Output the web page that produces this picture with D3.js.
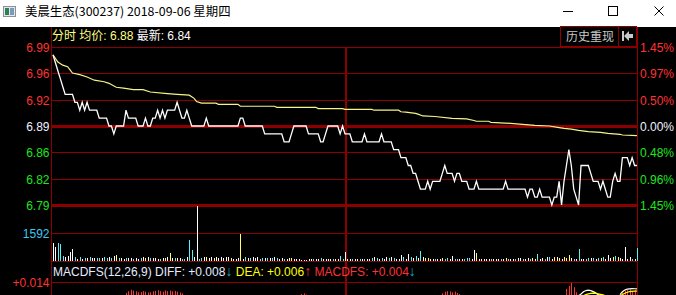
<!DOCTYPE html>
<html><head><meta charset="utf-8">
<script src="https://cdn.jsdelivr.net/npm/d3@7"></script>
<style>
html,body{margin:0;padding:0;background:#000;overflow:hidden;}
svg{display:block;}
text{font-family:"Liberation Sans","Noto Sans CJK SC",sans-serif;}
</style></head><body>
<svg id="c" width="676" height="295"></svg>
<script>
// ---------------- data ----------------
const titleText = "美晨生态(300237) 2018-09-06 星期四";
const headerParts = [["分时 均价: 6.88 ", "#ffff80"], ["最新: 6.84", "#ffffff"]];
const prevClose = 6.89;
const priceTickValues = [6.99, 6.9567, 6.9233, 6.89, 6.8567, 6.8233, 6.79];
const priceTickLabels = ["6.99", "6.96", "6.92", "6.89", "6.86", "6.82", "6.79"];
const pctTickLabels = ["1.45%", "0.97%", "0.50%", "0.00%", "0.48%", "0.96%", "1.45%"];
const prices = [
6.98,6.97,6.96,6.95,6.94,6.93,6.93,6.93,6.93,6.92,
6.92,6.91,6.92,6.91,6.92,6.91,6.91,6.91,6.91,6.90,
6.90,6.90,6.90,6.89,6.89,6.88,6.89,6.89,6.89,6.89,
6.91,6.90,6.90,6.90,6.90,6.89,6.89,6.89,6.90,6.89,
6.89,6.90,6.90,6.91,6.90,6.91,6.90,6.91,6.91,6.91,
6.91,6.92,6.91,6.90,6.90,6.91,6.90,6.89,6.89,6.89,
6.89,6.89,6.89,6.90,6.89,6.89,6.89,6.89,6.89,6.89,
6.89,6.89,6.89,6.89,6.89,6.89,6.89,6.90,6.90,6.89,
6.89,6.89,6.89,6.89,6.89,6.89,6.89,6.88,6.88,6.88,
6.88,6.88,6.88,6.88,6.88,6.87,6.87,6.87,6.88,6.89,
6.89,6.89,6.89,6.89,6.89,6.88,6.88,6.88,6.88,6.88,
6.87,6.87,6.88,6.89,6.89,6.89,6.89,6.89,6.88,6.89,
6.88,6.88,6.88,6.87,6.87,6.87,6.87,6.87,6.88,6.87,
6.87,6.87,6.87,6.87,6.87,6.88,6.87,6.87,6.87,6.87,
6.86,6.86,6.86,6.85,6.85,6.85,6.84,6.84,6.83,6.83,
6.82,6.81,6.81,6.81,6.82,6.81,6.82,6.82,6.82,6.82,
6.83,6.84,6.83,6.83,6.83,6.82,6.83,6.83,6.82,6.82,
6.82,6.81,6.81,6.81,6.82,6.81,6.81,6.81,6.81,6.81,
6.81,6.81,6.81,6.81,6.81,6.81,6.82,6.81,6.81,6.81,
6.81,6.81,6.81,6.81,6.81,6.80,6.81,6.81,6.80,6.80,
6.81,6.80,6.80,6.80,6.80,6.79,6.80,6.80,6.82,6.79,
6.82,6.84,6.86,6.84,6.81,6.80,6.79,6.84,6.84,6.84,
6.84,6.83,6.82,6.82,6.82,6.81,6.82,6.81,6.80,6.80,
6.82,6.83,6.82,6.82,6.85,6.85,6.85,6.84,6.85,6.84,
6.84];
const avgMinutes = [0,2,4,6,7,8,11,14,17,21,23,26,29,33,37,40,47,51,56,58,59,61,67,68,76,77,91,92,108,109,119,120,131,132,142,143,145,149,150,152,157,164,170,173,174,179,180,188,193,198,204,208,210,213,216,220,225,228,233,234,240];
const avgValues = [6.980,6.971,6.967,6.965,6.961,6.957,6.955,6.952,6.948,6.946,6.944,6.939,6.938,6.936,6.936,6.933,6.931,6.930,6.929,6.925,6.921,6.919,6.919,6.9175,6.9175,6.915,6.915,6.9137,6.9137,6.912,6.912,6.911,6.911,6.910,6.910,6.908,6.9075,6.906,6.905,6.9027,6.902,6.8997,6.899,6.897,6.896,6.896,6.8947,6.8934,6.892,6.8909,6.890,6.888,6.887,6.886,6.8845,6.883,6.882,6.8807,6.8795,6.8786,6.8777];
const volumes = [
1004,813,1042,966,284,209,303,531,682,209,
133,246,133,190,190,246,190,190,152,152,
190,246,171,209,152,284,341,152,190,114,
152,152,152,95,152,114,152,246,152,209,
152,190,152,114,114,152,152,209,474,152,
152,152,152,114,114,209,1194,625,209,3127,
114,152,209,246,190,246,152,209,152,209,
152,209,246,152,114,114,152,1535,114,246,
152,152,209,152,209,114,152,152,152,190,
152,209,152,114,190,114,114,152,190,114,
95,114,57,57,57,95,95,114,114,95,
152,114,95,114,95,114,114,114,284,114,
531,114,114,114,114,95,114,114,95,95,
114,152,209,152,114,152,114,209,152,209,
152,95,114,341,209,114,398,246,152,284,
152,569,209,152,152,114,95,114,95,114,
152,114,152,114,284,95,114,114,114,114,
152,152,114,625,436,114,114,95,114,114,
114,95,114,95,95,114,152,114,114,95,
114,152,152,114,114,152,114,152,114,398,
114,152,95,209,209,114,246,209,190,114,
209,152,341,152,114,95,663,114,114,95,
152,152,152,114,152,152,209,114,341,152,
246,284,209,152,114,777,114,246,114,95,
720];
const volTypes =
"wwcccwwwwc"+"wcwcwcwwcc"+"wccwcwycww"+"cwwcwwcwyw"+"cwwwcwywyw"+
"cwwccwccww"+"ccwywwywww"+"wwwywwwywc"+"wcwwwccwcw"+"cwcwwcwwyw"+
"wwwwwwwcww"+"cwwwwcwwcc"+"wwwcwwcwcw"+"wcwcwcwwcw"+"cwwwcwwcwc"+
"wcwyywwcww"+"yccwwccwwc"+"ccwwywwwww"+"cwwwcwycww"+"cwwcwwcywc"+
"wwcwcwywyw"+"yyywcwcwwc"+"cwcwcycwww"+"ycywwwwwcw"+"c";
const volMidLabel = "1592";
const volMax = 3184;
const macdText = [["MACDFS(12,26,9) DIFF: +0.008", "#e8ecff", 12], ["↓", "#1aa8c8", 14], [" DEA: +0.006", "#ffff00", 12], ["↑", "#ff3232", 14], [" MACDFS: +0.004", "#ff3232", 12], ["↓", "#1aa8c8", 14]];
const macdTopLabel = "+0.014";
const macdTop = 0.014;
const macdBarMinutes = [30,31,32,33,34,35,36,37,38,39,40,41,42,43,44,45,46,47,48,49,50,51,52,53,102,103,104,160,161,162,163,164,165,166,167,211,212,213,214,215,234,235,236,237,238,239,240];
const macdBarValues = [0.0045,0.006,0.0072,0.0065,0.0058,0.005,0.0052,0.006,0.0055,0.0048,0.005,0.0058,0.0062,0.0068,0.006,0.0055,0.0065,0.006,0.0065,0.0058,0.0062,0.0055,0.0048,0.004,0.0035,0.004,0.003,0.004,0.0055,0.006,0.0058,0.005,0.0055,0.0045,0.0035,0.008,0.0105,0.0143,0.0094,0.005,0.005,0.0065,0.007,0.0075,0.006,0.0068,0.004];
const diffMinutes = [216,217,218,219,220,221,222,223,224,225,null,233,234,235,236,237,238,239,240];
const diffValues  = [0.002,0.0035,0.0055,0.0065,0.0068,0.0064,0.0056,0.0045,0.003,0.002,null,0.003,0.0055,0.007,0.0078,0.008,0.0082,0.0081,0.008];
const deaMinutes = [218,219,220,221,222,223,224,225,226,227,null,233,234,235,236,237,238,239,240];
const deaValues  = [0.002,0.003,0.0036,0.004,0.0042,0.004,0.0036,0.0032,0.0027,0.002,null,0.002,0.003,0.0042,0.005,0.0055,0.0058,0.006,0.006];

// ---------------- drawing ----------------
const W = 676, H = 295;
const L = 51, R = 637;
const GRID = "#8c0000";
const UP = "#ff3232", DOWN = "#1ee61e", FLAT = "#f0f0ff";
const svg = d3.select("#c");

svg.append("rect").attr("width", W).attr("height", H).attr("fill", "#000");
// window title bar
svg.append("rect").attr("width", W).attr("height", 27).attr("fill", "#fff");
const icon = svg.append("g");
icon.append("rect").attr("x", 3.5).attr("y", 6.5).attr("width", 12).attr("height", 10).attr("fill", "#e4e8ec").attr("stroke", "#8a9098");
icon.append("rect").attr("x", 5).attr("y", 8).attr("width", 4).attr("height", 7).attr("fill", "#2d7f5a");
icon.append("rect").attr("x", 10).attr("y", 8).attr("width", 4).attr("height", 7).attr("fill", "#7a9ab8");
svg.append("text").attr("x", 25).attr("y", 16).attr("font-size", 12.4).attr("fill", "#000")
  .style("font-family", "'Noto Sans CJK SC','Liberation Sans',sans-serif").text(titleText);
svg.append("line").attr("x1", 563).attr("x2", 573).attr("y1", 11.5).attr("y2", 11.5).attr("stroke", "#000");
svg.append("rect").attr("x", 608.5).attr("y", 6.5).attr("width", 9).attr("height", 9).attr("fill", "none").attr("stroke", "#000");
svg.append("path").attr("d", "M654.5,6.5L663.5,15.5M663.5,6.5L654.5,15.5").attr("stroke", "#000").attr("fill", "none");

// scales
const x = d3.scaleLinear().domain([0, 240]).range([53, 637]);
const y = d3.scaleLinear().domain([6.79, 6.99]).range([205, 47]);
const yv = d3.scaleLinear().domain([0, volMax]).range([261, 205]);
const ym = d3.scaleLinear().domain([0, macdTop]).range([298, 282]);

// frame / grid
const g = svg.append("g");
g.append("line").attr("x1", L + 0.5).attr("x2", L + 0.5).attr("y1", 27).attr("y2", H).attr("stroke", GRID);
g.append("line").attr("x1", R + 0.5).attr("x2", R + 0.5).attr("y1", 27).attr("y2", H).attr("stroke", GRID);
priceTickValues.forEach((v, k) => {
  const yy = Math.round(y(v));
  const thick = (k === 3 || k === 6);
  g.append("line").attr("x1", L).attr("x2", R)
    .attr("y1", yy + 0.5).attr("y2", yy + 0.5)
    .attr("stroke", GRID).attr("stroke-width", thick ? 3 : 1);
});
[yv(volMax / 2), yv(0), ym(macdTop)].forEach(yy => {
  g.append("line").attr("x1", L).attr("x2", R).attr("y1", Math.round(yy) + 0.5).attr("y2", Math.round(yy) + 0.5).attr("stroke", GRID);
});
// center (noon) line
g.append("rect").attr("x", Math.round(x(120))).attr("y", 47).attr("width", 2).attr("height", H - 47).attr("fill", GRID);

// header buttons
g.append("rect").attr("x", 560.5).attr("y", 26.5).attr("width", 58).attr("height", 20).attr("fill", "none").attr("stroke", GRID);
g.append("rect").attr("x", 618.5).attr("y", 26.5).attr("width", 18).attr("height", 20).attr("fill", "none").attr("stroke", GRID);
svg.append("text").attr("x", 590).attr("y", 41).attr("text-anchor", "middle").attr("font-size", 12).attr("fill", "#c8c8c8")
  .style("font-family", "'Noto Sans CJK SC',sans-serif").text("历史重现");
svg.append("rect").attr("x", 622).attr("y", 31).attr("width", 2).attr("height", 10).attr("fill", "#c8c8c8");
svg.append("path").attr("d", "M624,36L629,31L629,34L633,34L633,38L629,38L629,41Z").attr("fill", "#c8c8c8");

// header text
const ht = svg.append("text").attr("x", 52).attr("y", 40).attr("font-size", 12);
headerParts.forEach(p => ht.append("tspan").attr("fill", p[1]).text(p[0]));

// axis labels
priceTickValues.forEach((v, k) => {
  const yy = Math.round(y(v));
  const col = k < 3 ? UP : (k === 3 ? FLAT : DOWN);
  svg.append("text").attr("x", 49.5).attr("y", yy + 4.5).attr("text-anchor", "end").attr("font-size", 12).attr("fill", col).text(priceTickLabels[k]);
  svg.append("text").attr("x", 640).attr("y", yy + 4.5).attr("font-size", 12).attr("fill", col).text(pctTickLabels[k]);
});
svg.append("text").attr("x", 49.5).attr("y", Math.round(yv(volMax / 2)) + 4.5).attr("text-anchor", "end").attr("font-size", 12).attr("fill", "#3cc8f0").text(volMidLabel);
svg.append("text").attr("x", 49.5).attr("y", Math.round(ym(macdTop)) + 4.5).attr("text-anchor", "end").attr("font-size", 12).attr("fill", UP).text(macdTopLabel);

// clip
const defs = svg.append("defs");
defs.append("clipPath").attr("id", "cm").append("rect").attr("x", L + 1).attr("y", 283).attr("width", R - L - 1).attr("height", 12);

// average line
svg.append("path").datum(avgMinutes.map((m, i) => [m, avgValues[i]]))
  .attr("d", d3.line().x(d => x(d[0])).y(d => y(d[1])))
  .attr("fill", "none").attr("stroke", "#f4f488").attr("stroke-width", 1.2);
// price line
svg.append("path").datum(prices)
  .attr("d", d3.line().x((d, i) => x(i)).y(d => y(d)))
  .attr("fill", "none").attr("stroke", "#ffffff").attr("stroke-width", 1.3);

// volume bars
const vcol = {w: "#ffffff", c: "#54f0f8", y: "#ffff60"};
svg.append("g").selectAll("rect").data(volumes).join("rect")
  .attr("x", (d, i) => Math.round(x(i)))
  .attr("width", 1)
  .attr("y", d => Math.round(yv(d)))
  .attr("height", d => 261 - Math.round(yv(d)))
  .attr("fill", (d, i) => vcol[volTypes[i]]);

// MACD text
const mt = svg.append("text").attr("x", 53).attr("y", 276).attr("font-size", 12);
macdText.forEach(p => mt.append("tspan").attr("fill", p[1]).attr("font-size", p[2]).text(p[0]));

// MACD histogram + lines
const mg = svg.append("g").attr("clip-path", "url(#cm)");
mg.selectAll("rect").data(macdBarMinutes).join("rect")
  .attr("x", d => Math.round(x(d)))
  .attr("width", 1)
  .attr("y", (d, i) => ym(macdBarValues[i]))
  .attr("height", (d, i) => 298 - ym(macdBarValues[i]))
  .attr("fill", UP);
mg.append("path").datum(diffMinutes.map((m, i) => [m, diffValues[i]]))
  .attr("d", d3.line().defined(d => d[0] !== null).x(d => x(d[0])).y(d => ym(d[1])))
  .attr("fill", "none").attr("stroke", "#ffffff").attr("stroke-width", 1.2);
mg.append("path").datum(deaMinutes.map((m, i) => [m, deaValues[i]]))
  .attr("d", d3.line().defined(d => d[0] !== null).x(d => x(d[0])).y(d => ym(d[1])))
  .attr("fill", "none").attr("stroke", "#ffff00").attr("stroke-width", 1.2);
</script>
</body></html>
